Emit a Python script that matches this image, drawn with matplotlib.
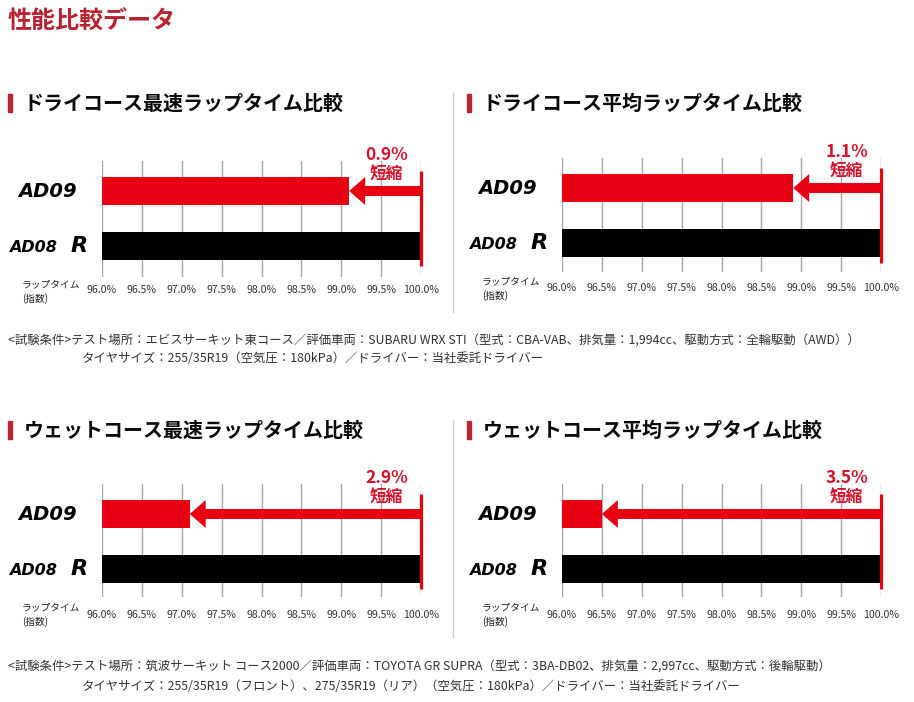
import numpy as np
import matplotlib
matplotlib.use("Agg")
import matplotlib.pyplot as plt
from matplotlib.transforms import blended_transform_factory

plt.rcParams['font.family'] = ['Noto Sans CJK JP', 'DejaVu Sans']

# データ
titres = ["ドライコース最速ラップタイム比較", "ドライコース平均ラップタイム比較",
          "ウェットコース最速ラップタイム比較", "ウェットコース平均ラップタイム比較"]
ad09 = [99.1, 98.9, 97.1, 96.5]
ad08r = [100.0, 100.0, 100.0, 100.0]
graduations = [96.0, 96.5, 97.0, 97.5, 98.0, 98.5, 99.0, 99.5, 100.0]
conditions_dry = ["<試験条件>テスト場所：エビスサーキット東コース／評価車両：SUBARU WRX STI（型式：CBA-VAB、排気量：1,994cc、駆動方式：全輪駆動（AWD））",
                  "タイヤサイズ：255/35R19（空気圧：180kPa）／ドライバー：当社委託ドライバー"]
conditions_wet = ["<試験条件>テスト場所：筑波サーキット コース2000／評価車両：TOYOTA GR SUPRA（型式：3BA-DB02、排気量：2,997cc、駆動方式：後輪駆動）",
                  "タイヤサイズ：255/35R19（フロント）、275/35R19（リア）（空気圧：180kPa）／ドライバー：当社委託ドライバー"]

W, H = 914, 702
ROUGE = '#e60012'
ROUGE_TXT = '#d3132c'
ROUGE_TITRE = '#b8232f'

fig = plt.figure(figsize=(W / 100, H / 100), dpi=100)
fig.patch.set_facecolor('white')

def fx(px):
    return px / W

def fy(py):
    return 1 - py / H

fig.text(fx(8), fy(22), "性能比較データ", fontsize=17.3, fontweight='bold', color=ROUGE_TITRE, va='center', ha='left')

# position de chaque panneau : (x du 96%, y du titre, y centre barre rouge, x marqueur, bas grille)
panneaux = [(102, 103, 191, 8, 86), (562, 103, 188, 467, 84), (102, 430, 514, 8, 83), (562, 430, 514, 467, 83)]
ecart = 55.0

for i in range(4):
    x0, yt, rc, xm, bas = panneaux[i]
    # titre du panneau + marqueur rouge
    fig.patches.append(plt.Rectangle((fx(xm), fy(yt + 9)), 4 / W, 18 / H, transform=fig.transFigure, color=ROUGE_TITRE))
    fig.text(fx(xm + 16), fy(yt), titres[i], fontsize=14.4, fontweight='bold', color='#0a0a0a', va='center', ha='left')

    gt, gb = rc - 30, rc + bas
    ax = fig.add_axes([fx(x0), fy(gb), 319 / W, (gb - gt) / H])
    ax.set_xlim(96, 100)
    ax.set_ylim((gb - rc) / ecart, (gt - rc) / ecart)
    for s in ax.spines.values():
        s.set_visible(False)
    ax.set_xticks(graduations)
    ax.set_xticklabels(["%.1f%%" % g for g in graduations])
    ax.set_yticks([])
    ax.tick_params(axis='x', length=0, pad=6 + (99 - bas) - 13, labelsize=7.6, labelcolor='#333333')
    ax.grid(axis='x', color='#a8a8a8', lw=1)
    ax.set_axisbelow(True)

    ax.barh(0, ad09[i] - 96, left=96, height=28 / ecart, color=ROUGE, zorder=3)
    ax.barh(1, ad08r[i] - 96, left=96, height=28 / ecart, color='black', zorder=3)

    # trait rouge de référence et flèche
    ax.plot([ad08r[i], ad08r[i]], [-20 / ecart, 75 / ecart], color=ROUGE, lw=2.3, zorder=4, clip_on=False, solid_capstyle='butt')
    ax.arrow(ad08r[i], 0, ad09[i] - ad08r[i], 0, width=10 / ecart, head_width=28 / ecart,
             head_length=0.2, length_includes_head=True, color=ROUGE, lw=0, zorder=4)

    gain = ad08r[i] - ad09[i]
    ax.text(ad08r[i] - 0.43, -36 / ecart, "%.1f%%" % gain, color=ROUGE_TXT, fontsize=12.5, fontweight='bold', ha='center', va='center', clip_on=False)
    ax.text(ad08r[i] - 0.43, -17 / ecart, "短縮", color=ROUGE_TXT, fontsize=12, fontweight='bold', ha='center', va='center', clip_on=False)

    # noms des pneus
    dx = 0 if x0 < 400 else 460
    tr = blended_transform_factory(ax.transAxes, ax.transData)
    ax.text((48 + dx - x0) / 319, 0, "AD09", transform=tr, fontsize=14,
            fontweight='heavy', style='italic', family='DejaVu Sans', ha='center', va='center', clip_on=False)
    ax.text((33 + dx - x0) / 319, 1.02, "AD08", transform=tr, fontsize=11.5,
            fontweight='heavy', style='italic', family='DejaVu Sans', ha='center', va='center', clip_on=False)
    ax.text((79 + dx - x0) / 319, 1, "R", transform=tr, fontsize=16,
            fontweight='heavy', style='italic', family='DejaVu Sans', ha='center', va='center', clip_on=False)

    # libellé de l'axe
    xl = 22 if x0 < 400 else 482
    fig.text(fx(xl), fy(rc + 93), "ラップタイム", fontsize=7, color='#222222', va='center', ha='left')
    fig.text(fx(xl), fy(rc + 108), "(指数)", fontsize=7, color='#222222', va='center', ha='left')

# séparateurs verticaux
for (y1, y2) in [(93, 312), (420, 637)]:
    fig.add_artist(plt.Line2D([fx(453), fx(453)], [fy(y1), fy(y2)], color='#cccccc', lw=1))

# conditions d'essai
fig.text(fx(8), fy(340), conditions_dry[0], fontsize=8.9, color='#333333', va='center', ha='left')
fig.text(fx(82), fy(358), conditions_dry[1], fontsize=8.9, color='#333333', va='center', ha='left')
fig.text(fx(8), fy(666), conditions_wet[0], fontsize=8.9, color='#333333', va='center', ha='left')
fig.text(fx(82), fy(687), conditions_wet[1], fontsize=8.9, color='#333333', va='center', ha='left')

fig.savefig("out.png", dpi=100)
